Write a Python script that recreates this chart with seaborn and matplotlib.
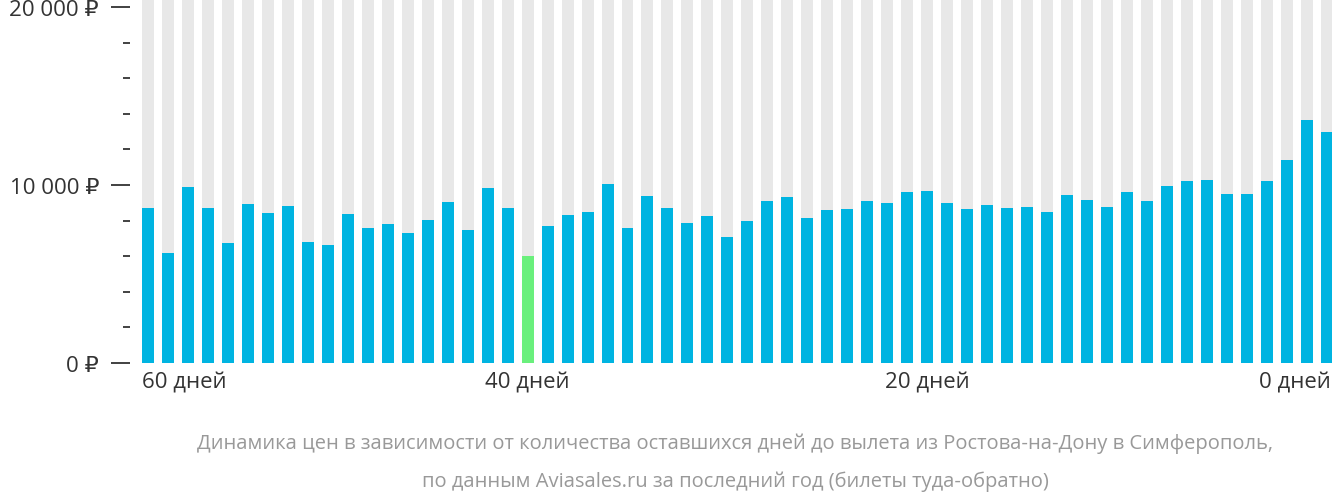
import matplotlib
matplotlib.use("Agg")
import matplotlib.pyplot as plt
import matplotlib.transforms as mt
import seaborn as sns
import pandas as pd
import numpy as np

prices = [8700, 6150, 9900, 8700, 6750, 8950, 8400, 8800, 6800, 6650,
          8350, 7600, 7800, 7300, 8050, 9050, 7450, 9850, 8700, 6000,
          7700, 8300, 8500, 10050, 7600, 9400, 8700, 7850, 8250, 7100,
          8000, 9100, 9300, 8150, 8600, 8650, 9100, 9000, 9600, 9650,
          9000, 8650, 8850, 8700, 8750, 8500, 9450, 9150, 8750, 9600,
          9100, 9950, 10250, 10300, 9500, 9500, 10250, 11400, 13650, 12950]
slots = list(range(len(prices)))
x_tick_pos = [0, 19, 39, 59]
x_tick_labels = ["60 дней", "40 дней", "20 дней", "0 дней"]
y_major = [0, 10000, 20000]
y_labels = ["0 ₽", "10 000 ₽", "20 000 ₽"]

plt.rcParams["font.family"] = ["Open Sans", "DejaVu Sans"]
df = pd.DataFrame({"slot": slots, "price": prices})
ymax = 20450
df["bg"] = ymax
minp = min(prices)
colors = ["#6af07c" if p == minp else "#00b4e1" for p in prices]

fig = plt.figure(figsize=(13.32, 5.02), dpi=100)
ax = fig.add_axes([0.1036, 0.275, 0.9, 0.725])
sns.barplot(data=df, x="slot", y="bg", color="#e8e8e8", width=0.6, ax=ax, native_scale=True, saturation=1)
sns.barplot(data=df, x="slot", y="price", hue="slot", palette=colors, legend=False,
            width=0.6, ax=ax, native_scale=True, saturation=1)
ax.set_xlim(-0.5, len(prices) - 0.5)
ax.set_ylim(0, ymax)
for s in ax.spines.values():
    s.set_visible(False)
ax.set_xlabel("")
ax.set_ylabel("")
ax.set_xticks(x_tick_pos)
ax.set_xticklabels(x_tick_labels, fontsize=16, color="#333333")
ax.tick_params(axis="x", length=0, pad=6)
lbls = ax.get_xticklabels()
lbls[0].set_ha("left")
lbls[0].set_transform(lbls[0].get_transform() + mt.ScaledTranslation(-0.06, 0, fig.dpi_scale_trans))
lbls[-1].set_ha("right")
lbls[-1].set_transform(lbls[-1].get_transform() + mt.ScaledTranslation(0.04, 0, fig.dpi_scale_trans))
ax.set_yticks(y_major)
ax.set_yticklabels(y_labels, fontsize=16, color="#333333")
ax.set_yticks(np.arange(0, 20001, 2000), minor=True)
ax.tick_params(axis="y", which="major", length=14, width=1.3, color="#333333", pad=14)
ax.tick_params(axis="y", which="minor", length=5, width=1.3, color="#333333")
for t in ax.yaxis.get_major_ticks() + ax.yaxis.get_minor_ticks():
    t.tick1line.set_transform(t.tick1line.get_transform() + mt.ScaledTranslation(-0.08, 0, fig.dpi_scale_trans))
fig.text(0.552, 0.105, "Динамика цен в зависимости от количества оставшихся дней до вылета из Ростова-на-Дону в Симферополь,",
         ha="center", fontsize=14.5, color="#999999")
fig.text(0.552, 0.03, "по данным Aviasales.ru за последний год (билеты туда-обратно)",
         ha="center", fontsize=14.5, color="#999999")
fig.savefig("out.png", dpi=100)
